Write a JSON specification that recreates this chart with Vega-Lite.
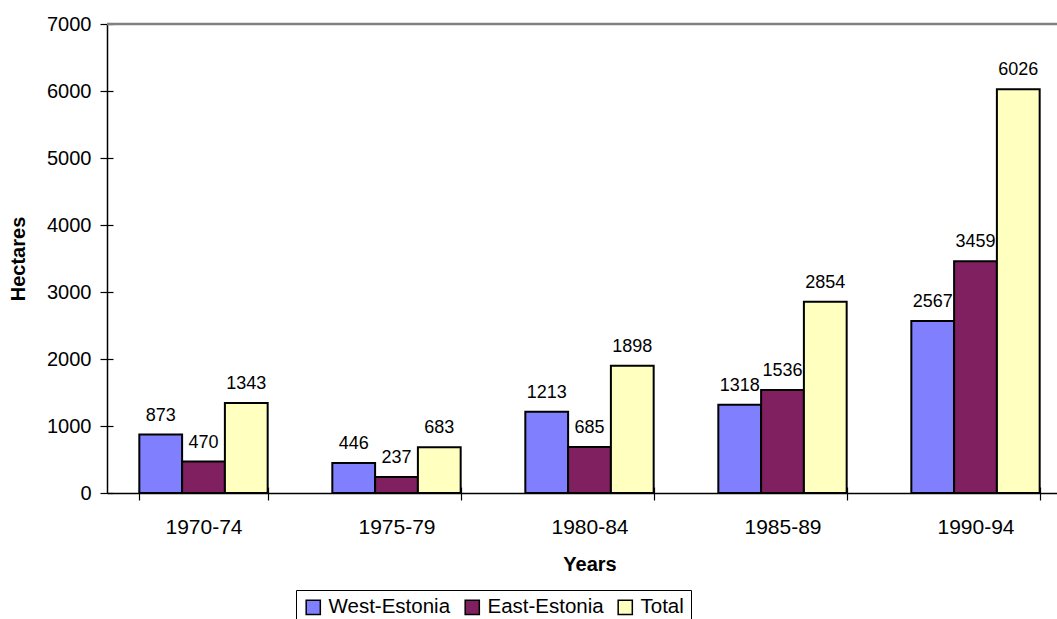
{
  "$schema": "https://vega.github.io/schema/vega-lite/v6.json",
  "autosize": {"type": "none"},
  "width": 950,
  "height": 469,
  "padding": {"left": 107, "top": 24, "right": 0, "bottom": 126},
  "background": "white",
  "config": {
    "view": {"stroke": null},
    "font": "Liberation Sans",
    "axis": {
      "domainColor": "#000000",
      "domainWidth": 1.5,
      "tickColor": "#000000",
      "tickWidth": 1.2,
      "labelColor": "#000000",
      "labelFont": "Liberation Sans",
      "titleFont": "Liberation Sans",
      "titleColor": "#000000",
      "grid": false
    }
  },
  "data": {
    "values": [
      {"period": "1970-74", "series": "West-Estonia", "value": 873},
      {"period": "1970-74", "series": "East-Estonia", "value": 470},
      {"period": "1970-74", "series": "Total", "value": 1343},
      {"period": "1975-79", "series": "West-Estonia", "value": 446},
      {"period": "1975-79", "series": "East-Estonia", "value": 237},
      {"period": "1975-79", "series": "Total", "value": 683},
      {"period": "1980-84", "series": "West-Estonia", "value": 1213},
      {"period": "1980-84", "series": "East-Estonia", "value": 685},
      {"period": "1980-84", "series": "Total", "value": 1898},
      {"period": "1985-89", "series": "West-Estonia", "value": 1318},
      {"period": "1985-89", "series": "East-Estonia", "value": 1536},
      {"period": "1985-89", "series": "Total", "value": 2854},
      {"period": "1990-94", "series": "West-Estonia", "value": 2567},
      {"period": "1990-94", "series": "East-Estonia", "value": 3459},
      {"period": "1990-94", "series": "Total", "value": 6026}
    ]
  },
  "resolve": {"axis": {"x": "independent", "y": "independent"}},
  "layer": [
    {
      "data": {"values": [{"top": 7000}]},
      "mark": {"type": "rule", "color": "#808080", "strokeWidth": 2.5},
      "encoding": {
        "y": {"field": "top", "type": "quantitative", "axis": null}
      }
    },
    {
      "mark": {"type": "bar", "stroke": "#000000", "strokeWidth": 2},
      "encoding": {
        "x": {
          "field": "period",
          "type": "nominal",
          "sort": null,
          "scale": {"range": [0, 965], "paddingInner": 0.335, "paddingOuter": 0.1675},
          "axis": {
            "orient": "bottom",
            "title": "Years",
            "titleFontSize": 20,
            "titleFontWeight": "bold",
            "titlePadding": 17,
            "labelAngle": 0,
            "labelFontSize": 21,
            "labelPadding": 16,
            "tickBand": "extent",
            "tickSize": 7
          }
        },
        "xOffset": {
          "field": "series",
          "type": "nominal",
          "sort": ["West-Estonia", "East-Estonia", "Total"],
          "scale": {"paddingInner": 0, "paddingOuter": 0}
        },
        "y": {
          "field": "value",
          "type": "quantitative",
          "scale": {"domain": [0, 7000], "nice": false},
          "axis": {
            "orient": "left",
            "title": "Hectares",
            "titleFontSize": 20,
            "titleFontWeight": "bold",
            "titlePadding": 18,
            "labelFontSize": 20,
            "labelPadding": 9,
            "format": "d",
            "values": [0, 1000, 2000, 3000, 4000, 5000, 6000, 7000],
            "tickSize": 7
          }
        },
        "color": {
          "field": "series",
          "type": "nominal",
          "sort": ["West-Estonia", "East-Estonia", "Total"],
          "scale": {
            "domain": ["West-Estonia", "East-Estonia", "Total"],
            "range": ["#8080ff", "#802060", "#ffffc0"]
          },
          "legend": {
            "title": null,
            "orient": "none",
            "direction": "horizontal",
            "legendX": 189,
            "legendY": 566,
            "strokeColor": "#000000",
            "fillColor": "#ffffff",
            "padding": 7,
            "symbolType": "square",
            "symbolSize": 200,
            "symbolStrokeColor": "#000000",
            "symbolStrokeWidth": 1.5,
            "symbolOpacity": 1,
            "labelFontSize": 20.5,
            "labelColor": "#000000",
            "labelOffset": 5,
            "columnPadding": 11
          }
        }
      }
    },
    {
      "mark": {"type": "text", "fontSize": 18, "baseline": "alphabetic", "dy": -14, "color": "#000000"},
      "encoding": {
        "x": {
          "field": "period",
          "type": "nominal",
          "sort": null,
          "axis": {
            "orient": "bottom",
            "title": null,
            "labels": false,
            "domain": false,
            "tickBand": "extent",
            "tickSize": 6,
            "offset": -6
          }
        },
        "xOffset": {
          "field": "series",
          "type": "nominal",
          "sort": ["West-Estonia", "East-Estonia", "Total"]
        },
        "y": {
          "field": "value",
          "type": "quantitative",
          "axis": {
            "orient": "left",
            "title": null,
            "labels": false,
            "domain": false,
            "values": [0, 1000, 2000, 3000, 4000, 5000, 6000, 7000],
            "tickSize": 6,
            "offset": -6
          }
        },
        "text": {"field": "value", "type": "quantitative"}
      }
    }
  ]
}
